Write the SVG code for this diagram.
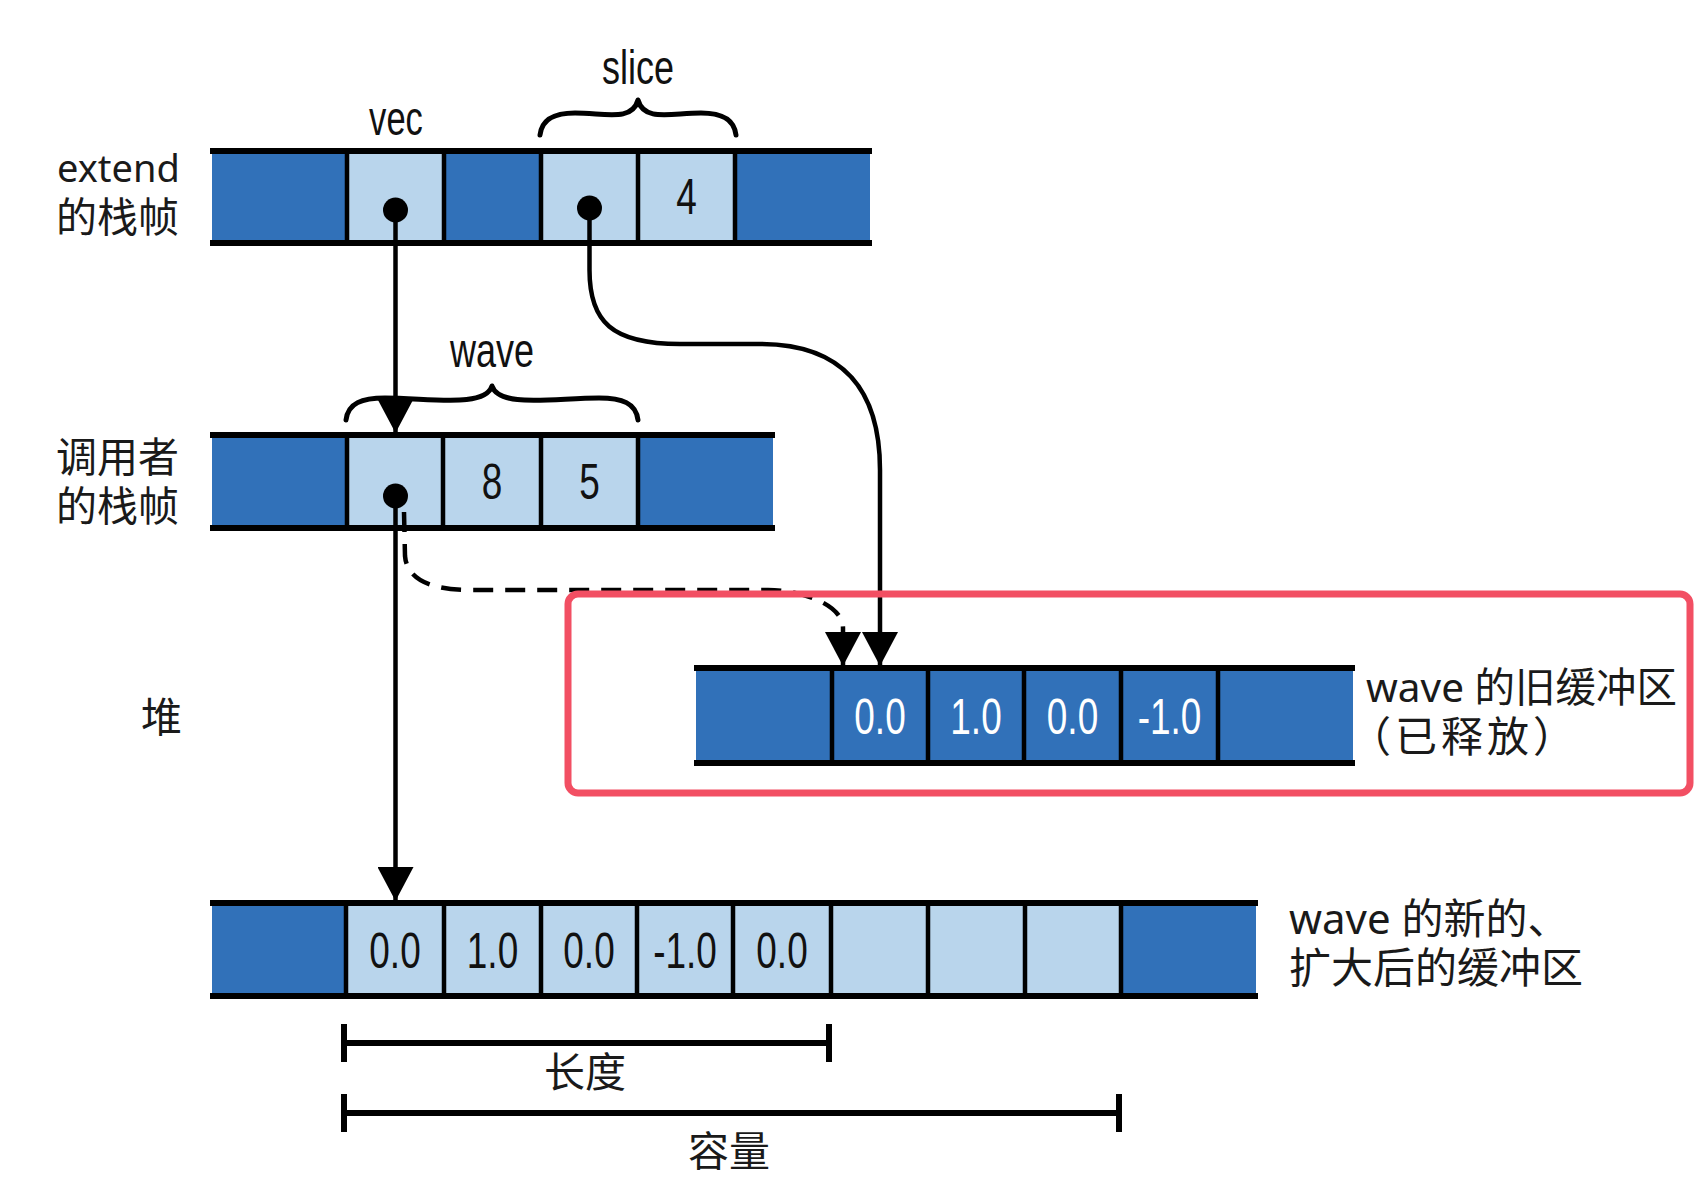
<svg xmlns="http://www.w3.org/2000/svg" width="1698" height="1196" viewBox="0 0 1698 1196">
<style>
.dark{fill:#3171b9}
.light{fill:#b9d5ec}
.hl{stroke:#000;stroke-width:6;fill:none}
.div{stroke:#000;stroke-width:4.5;fill:none}
.num{font-family:"Liberation Sans",Arial,sans-serif;font-size:50px;text-anchor:middle;fill:#111}
.numw{font-family:"Liberation Sans",Arial,sans-serif;font-size:50px;text-anchor:middle;fill:#fff}
.lbl{font-family:"Liberation Sans",Arial,sans-serif;font-size:48px;text-anchor:middle;fill:#111}
.cjk{font-family:"Noto Sans","Noto Sans CJK SC",sans-serif;font-size:41px;fill:#1a1a1a}
.cjkr{font-family:"Noto Sans","Noto Sans CJK SC",sans-serif;font-size:42px;fill:#1a1a1a}
.brace{stroke:#000;stroke-width:5;fill:none;stroke-linecap:round;stroke-linejoin:round}
.conn{stroke:#000;stroke-width:4.5;fill:none}
.dash{stroke-dasharray:20 12}
.dot{fill:#000}
</style>
<defs>
<marker id="arrow" viewBox="0 0 34 36" refX="34" refY="18" markerWidth="34" markerHeight="36" markerUnits="userSpaceOnUse" orient="auto">
<path d="M0,0 L34,18 L0,36 Z" fill="#000"/>
</marker>
</defs>
<rect width="1698" height="1196" fill="#fff"/>

<!-- row labels -->
<g id="labels-left">
<text class="cjk" x="57" y="182" style="font-size:38px">extend</text>
<text class="cjk" x="56" y="232">的栈帧</text>
<text class="cjk" x="56" y="472">调用者</text>
<text class="cjk" x="56" y="521">的栈帧</text>
<text class="cjk" x="141" y="732">堆</text>
</g>

<!-- extend frame -->
<g id="frame-extend">
<rect class="dark" x="212" y="151" width="658" height="92"/>
<rect class="light" x="347" y="151" width="97" height="92"/>
<rect class="light" x="541" y="151" width="194" height="92"/>
<path class="div" d="M347,151V243M444,151V243M541,151V243M638,151V243M735,151V243"/>
<path class="hl" d="M210,151H872M210,243H872"/>
<circle class="dot" cx="395.5" cy="210" r="12.5"/>
<circle class="dot" cx="589.5" cy="208" r="12.5"/>
<text class="num" transform="translate(686.5,214) scale(0.74,1)">4</text>
</g>

<g id="label-vec"><text class="lbl" transform="translate(396,135) scale(0.72,1)">vec</text></g>
<g id="label-slice">
<text class="lbl" transform="translate(638,84) scale(0.75,1)">slice</text>
<path class="brace" d="M540,135 C542,118 556,113 575,113 C605,113 632,122 638,100 C644,122 671,113 701,113 C720,113 734,118 736,135"/>
</g>

<!-- caller frame -->
<g id="frame-caller">
<rect class="dark" x="212" y="435" width="561" height="93"/>
<rect class="light" x="347" y="435" width="291" height="93"/>
<path class="div" d="M347,435V528M443,435V528M541,435V528M638,435V528"/>
<path class="hl" d="M210,435H775M210,528H775"/>
<circle class="dot" cx="395.5" cy="496" r="12.5"/>
<text class="num" transform="translate(492,499) scale(0.74,1)">8</text>
<text class="num" transform="translate(589.5,499) scale(0.74,1)">5</text>
</g>

<g id="label-wave">
<text class="lbl" transform="translate(492,367) scale(0.75,1)">wave</text>
<path class="brace" d="M346,420 C348,403 362,398 385,398 C430,398 485,408 492,386 C499,408 554,398 599,398 C622,398 636,403 638,420"/>
</g>

<!-- old heap buffer -->
<g id="heap-old">
<rect class="dark" x="696" y="668" width="657" height="95"/>
<path class="div" d="M832,668V763M928,668V763M1024,668V763M1121,668V763M1218,668V763"/>
<path class="hl" d="M694,668H1355M694,763H1355"/>
<text class="numw" transform="translate(880,734) scale(0.74,1)">0.0</text>
<text class="numw" transform="translate(976,734) scale(0.74,1)">1.0</text>
<text class="numw" transform="translate(1072.5,734) scale(0.74,1)">0.0</text>
<text class="numw" transform="translate(1169.5,734) scale(0.74,1)">-1.0</text>
<text class="cjkr" x="1366" y="702" style="font-size:40.5px">wave 的旧缓冲区</text>
<text class="cjkr" x="1349" y="752" letter-spacing="4">（已释放）</text>
</g>

<!-- new heap buffer -->
<g id="heap-new">
<rect class="dark" x="212" y="903" width="1044" height="93"/>
<rect class="light" x="346" y="903" width="775" height="93"/>
<path class="div" d="M346,903V996M444,903V996M541,903V996M637,903V996M733,903V996M831,903V996M928,903V996M1025,903V996M1121,903V996"/>
<path class="hl" d="M210,903H1258M210,996H1258"/>
<text class="num" transform="translate(395,968) scale(0.74,1)">0.0</text>
<text class="num" transform="translate(492.5,968) scale(0.74,1)">1.0</text>
<text class="num" transform="translate(589,968) scale(0.74,1)">0.0</text>
<text class="num" transform="translate(685,968) scale(0.74,1)">-1.0</text>
<text class="num" transform="translate(782,968) scale(0.74,1)">0.0</text>
<text class="cjkr" x="1289" y="934">wave 的新的、</text>
<text class="cjkr" x="1289" y="983">扩大后的缓冲区</text>
</g>

<!-- length / capacity -->
<g id="measure-length">
<path class="hl" d="M344,1043H829M344,1024V1062M829,1024V1062"/>
<text class="cjk" x="585" y="1087" text-anchor="middle">长度</text>
</g>
<g id="measure-capacity">
<path class="hl" d="M344,1113H1119M344,1094V1132M1119,1094V1132"/>
<text class="cjk" x="729" y="1166" text-anchor="middle">容量</text>
</g>

<!-- connectors -->
<g id="connectors">
<path class="conn" d="M395.5,210 V433" marker-end="url(#arrow)"/>
<path class="conn" d="M395.5,496 V901" marker-end="url(#arrow)"/>
<path class="conn" d="M589.5,208 V270 C589.5,322 612,344 680,344 H760 C845,344 880,392 880,470 V666" marker-end="url(#arrow)"/>
<path class="conn dash" d="M404,512 L405,556 C407,580 432,590 470,590 H768 C800,590 843,604 843,628 V666" marker-end="url(#arrow)"/>
</g>

<!-- highlight frame -->
<g id="highlight">
<rect x="568" y="594" width="1122" height="199" rx="10" fill="none" stroke="#f24f63" stroke-width="7"/>
</g>
</svg>
